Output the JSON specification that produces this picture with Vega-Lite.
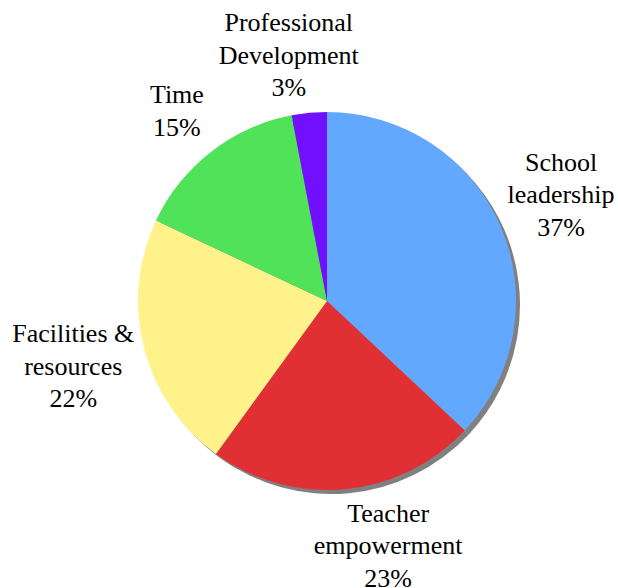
{
  "$schema": "https://vega.github.io/schema/vega-lite/v6.json",
  "autosize": "none",
  "width": 582,
  "height": 574,
  "padding": {"left": 36, "top": 14, "right": 0, "bottom": 0},
  "background": "white",
  "view": {"stroke": null},
  "data": {
    "values": [
      {"idx": 1, "category": "School leadership", "label": "School\nleadership\n37%", "value": 37},
      {"idx": 2, "category": "Teacher empowerment", "label": "Teacher\nempowerment\n23%", "value": 23},
      {"idx": 3, "category": "Facilities & resources", "label": "Facilities &\nresources\n22%", "value": 22},
      {"idx": 4, "category": "Time", "label": "Time\n15%", "value": 15},
      {"idx": 5, "category": "Professional Development", "label": "Professional\nDevelopment\n3%", "value": 3}
    ]
  },
  "encoding": {
    "theta": {"field": "value", "type": "quantitative", "stack": true},
    "order": {"field": "idx", "type": "quantitative"}
  },
  "layer": [
    {
      "mark": {"type": "arc", "outerRadius": 189, "color": "#808080", "xOffset": 4, "yOffset": 4}
    },
    {
      "mark": {"type": "arc", "outerRadius": 189},
      "encoding": {
        "color": {
          "field": "category",
          "type": "nominal",
          "legend": null,
          "scale": {
            "domain": ["School leadership", "Teacher empowerment", "Facilities & resources", "Time", "Professional Development"],
            "range": ["#62A8FF", "#E03034", "#FFF28A", "#50E35A", "#7010FF"]
          }
        }
      }
    },
    {
      "mark": {"type": "text", "radius": 255, "dy": -37, "font": "Liberation Serif", "fontSize": 26, "lineHeight": 32.5, "lineBreak": "\n", "align": "center", "baseline": "middle", "color": "#000"},
      "encoding": {"text": {"condition": {"test": "datum.idx == 1", "field": "label"}, "value": ""}}
    },
    {
      "mark": {"type": "text", "radius": 262, "dy": -32, "font": "Liberation Serif", "fontSize": 26, "lineHeight": 32.5, "lineBreak": "\n", "align": "center", "baseline": "middle", "color": "#000"},
      "encoding": {"text": {"condition": {"test": "datum.idx == 3", "field": "label"}, "value": ""}}
    },
    {
      "mark": {"type": "text", "radius": 246, "dy": -32, "dx": 38, "font": "Liberation Serif", "fontSize": 26, "lineHeight": 32.5, "lineBreak": "\n", "align": "center", "baseline": "middle", "color": "#000"},
      "encoding": {"text": {"condition": {"test": "datum.idx == 2", "field": "label"}, "value": ""}}
    },
    {
      "mark": {"type": "text", "radius": 247, "dy": -32, "dx": -15, "font": "Liberation Serif", "fontSize": 26, "lineHeight": 32.5, "lineBreak": "\n", "align": "center", "baseline": "middle", "color": "#000"},
      "encoding": {"text": {"condition": {"test": "datum.idx == 5", "field": "label"}, "value": ""}}
    },
    {
      "mark": {"type": "text", "radius": 240, "dy": -16, "dx": -3, "font": "Liberation Serif", "fontSize": 26, "lineHeight": 32.5, "lineBreak": "\n", "align": "center", "baseline": "middle", "color": "#000"},
      "encoding": {"text": {"condition": {"test": "datum.idx == 4", "field": "label"}, "value": ""}}
    }
  ]
}
